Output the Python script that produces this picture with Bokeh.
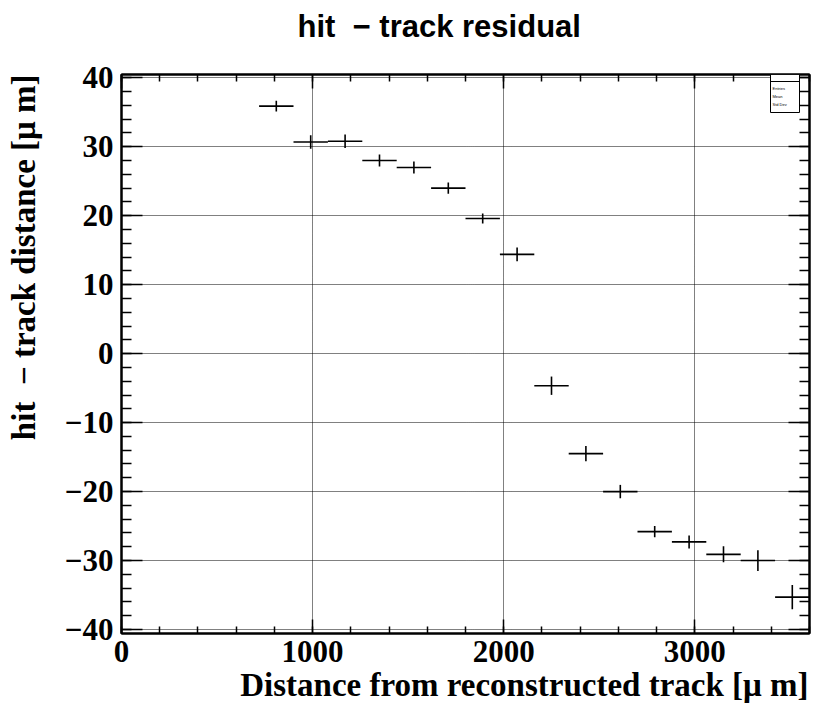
from bokeh.plotting import figure
from bokeh.models import (Range1d, LinearAxis, SingleIntervalTicker, CustomJSTickFormatter,
                          Label, BoxAnnotation, ColumnDataSource, Title)
from bokeh.embed import file_html
from bokeh.resources import INLINE

# ---- data ----
bin_centers = [810, 990, 1170, 1350, 1530, 1710, 1890, 2070, 2250, 2430, 2610, 2790, 2970, 3150, 3330, 3510]
residual = [35.9, 30.7, 30.8, 28.0, 27.0, 24.0, 19.6, 14.4, -4.65, -14.5, -20.0, -25.8, -27.3, -29.1, -30.0, -35.3]
residual_err = [0.77, 0.97, 0.97, 0.87, 0.87, 0.82, 0.72, 1.0, 1.33, 1.1, 0.97, 0.82, 0.94, 1.16, 1.5, 1.76]
bin_half_width = 90

title_text = "hit\u00a0 \u2212 track residual"
x_title = "Distance from reconstructed track [\u03bc m]"
y_title = "hit\u00a0 \u2212 track distance [\u03bc m]"
stats_rows = ["Entries", "Mean", "Std Dev"]

src = ColumnDataSource(dict(
    x=bin_centers, y=residual,
    xl=[c - bin_half_width for c in bin_centers],
    xr=[c + bin_half_width for c in bin_centers],
    yl=[v - e for v, e in zip(residual, residual_err)],
    yh=[v + e for v, e in zip(residual, residual_err)],
))

W, H = 815, 706
L, R, T, B = 121, 6, 74, 73

p = figure(width=W, height=H, output_backend="svg", toolbar_location=None,
           x_range=Range1d(0, 3600), y_range=Range1d(-40.58, 40.48),
           min_border_left=L, min_border_right=R, min_border_top=T, min_border_bottom=B,
           background_fill_color="white", border_fill_color="white")
p.outline_line_color = "black"
p.outline_line_width = 2

below = p.below[0]
left = p.left[0]

xt = SingleIntervalTicker(interval=1000, num_minor_ticks=5)
yt = SingleIntervalTicker(interval=10, num_minor_ticks=5)

below.ticker = xt
left.ticker = yt
left.formatter = CustomJSTickFormatter(code="return tick < 0 ? '\u2212' + (-tick) : '' + tick;")

empty_fmt = CustomJSTickFormatter(code="return '';")
blank_fmt = CustomJSTickFormatter(code="return ' ';")
above = LinearAxis(ticker=xt, formatter=blank_fmt)
right = LinearAxis(ticker=yt, formatter=empty_fmt)
p.add_layout(above, "above")
p.add_layout(right, "right")

for ax in [below, above]:
    ax.major_tick_in = 14
    ax.minor_tick_in = 7
for ax in [left, right]:
    ax.major_tick_in = 21
    ax.minor_tick_in = 10
for ax in [below, left, above, right]:
    ax.major_tick_out = 0
    ax.minor_tick_out = 0
    ax.axis_line_width = 2
    ax.axis_line_color = "black"
    ax.major_tick_line_width = 1.5
    ax.minor_tick_line_width = 1.5
    ax.major_tick_line_color = "black"
    ax.minor_tick_line_color = "black"
    ax.major_label_text_font = "Liberation Serif"
    ax.major_label_text_font_style = "bold"
    ax.major_label_text_font_size = "31px"
    ax.major_label_text_color = "black"
right.major_label_text_font_size = "1px"
right.major_label_standoff = 0
# top axis: blank labels, used to keep room between frame and main title
above.major_label_text_font_size = "1px"
above.major_label_standoff = 27
below.major_label_standoff = 7
left.major_label_standoff = 8

# invisible spacer between y tick labels and y title
spacer = LinearAxis(ticker=yt, formatter=blank_fmt, axis_line_color=None,
                    major_tick_line_color=None, minor_tick_line_color=None,
                    major_tick_out=0, minor_tick_out=0, major_tick_in=0, minor_tick_in=0,
                    major_label_text_font_size="1px", major_label_standoff=17)
p.add_layout(spacer, "left")

p.xgrid.grid_line_color = "black"
p.ygrid.grid_line_color = "black"
p.xgrid.grid_line_dash = "1 1"
p.ygrid.grid_line_dash = "1 1"
p.xgrid.grid_line_width = 1
p.ygrid.grid_line_width = 1

# data: error-bar crosses
p.segment(x0="xl", y0="y", x1="xr", y1="y", source=src, line_color="black", line_width=1.6)
p.segment(x0="x", y0="yl", x1="x", y1="yh", source=src, line_color="black", line_width=1.6)

# titles
p.title.text = title_text
p.title.align = "left"
p.title.offset = 176
p.title.text_font = "Liberation Sans"
p.title.text_font_style = "bold"
p.title.text_font_size = "31px"
p.title.text_color = "black"
p.title.standoff = 0

p.add_layout(Title(text=x_title, align="right", offset=1, standoff=0,
                   text_font="Liberation Serif", text_font_style="bold",
                   text_font_size="33px", text_color="black"), "below")
p.add_layout(Title(text=y_title, align="right", offset=0, standoff=0,
                   text_font="Liberation Serif", text_font_style="bold",
                   text_font_size="33px", text_color="black"), "left")

# small stats box (top right)
frame_bottom = H - B
p.add_layout(BoxAnnotation(left=770 - L, right=799 - L, top=frame_bottom - 74, bottom=frame_bottom - 112,
                           left_units="screen", right_units="screen", top_units="screen", bottom_units="screen",
                           fill_color="white", fill_alpha=1, line_color="black", line_width=1, line_alpha=1,
                           level="overlay"))
p.add_layout(BoxAnnotation(left=770 - L, right=799 - L, top=frame_bottom - 74, bottom=frame_bottom - 81,
                           left_units="screen", right_units="screen", top_units="screen", bottom_units="screen",
                           fill_color="white", fill_alpha=0, line_color="black", line_width=1, line_alpha=1,
                           level="overlay"))
for i, name in enumerate(stats_rows):
    p.add_layout(Label(x=772 - L, y=frame_bottom - (88 + 8 * i), x_units="screen", y_units="screen",
                       text=name, text_font="Liberation Sans", text_font_size="4px",
                       text_baseline="middle", text_align="left", text_color="black", level="overlay"))

open("out.html", "w").write(file_html(p, INLINE))
